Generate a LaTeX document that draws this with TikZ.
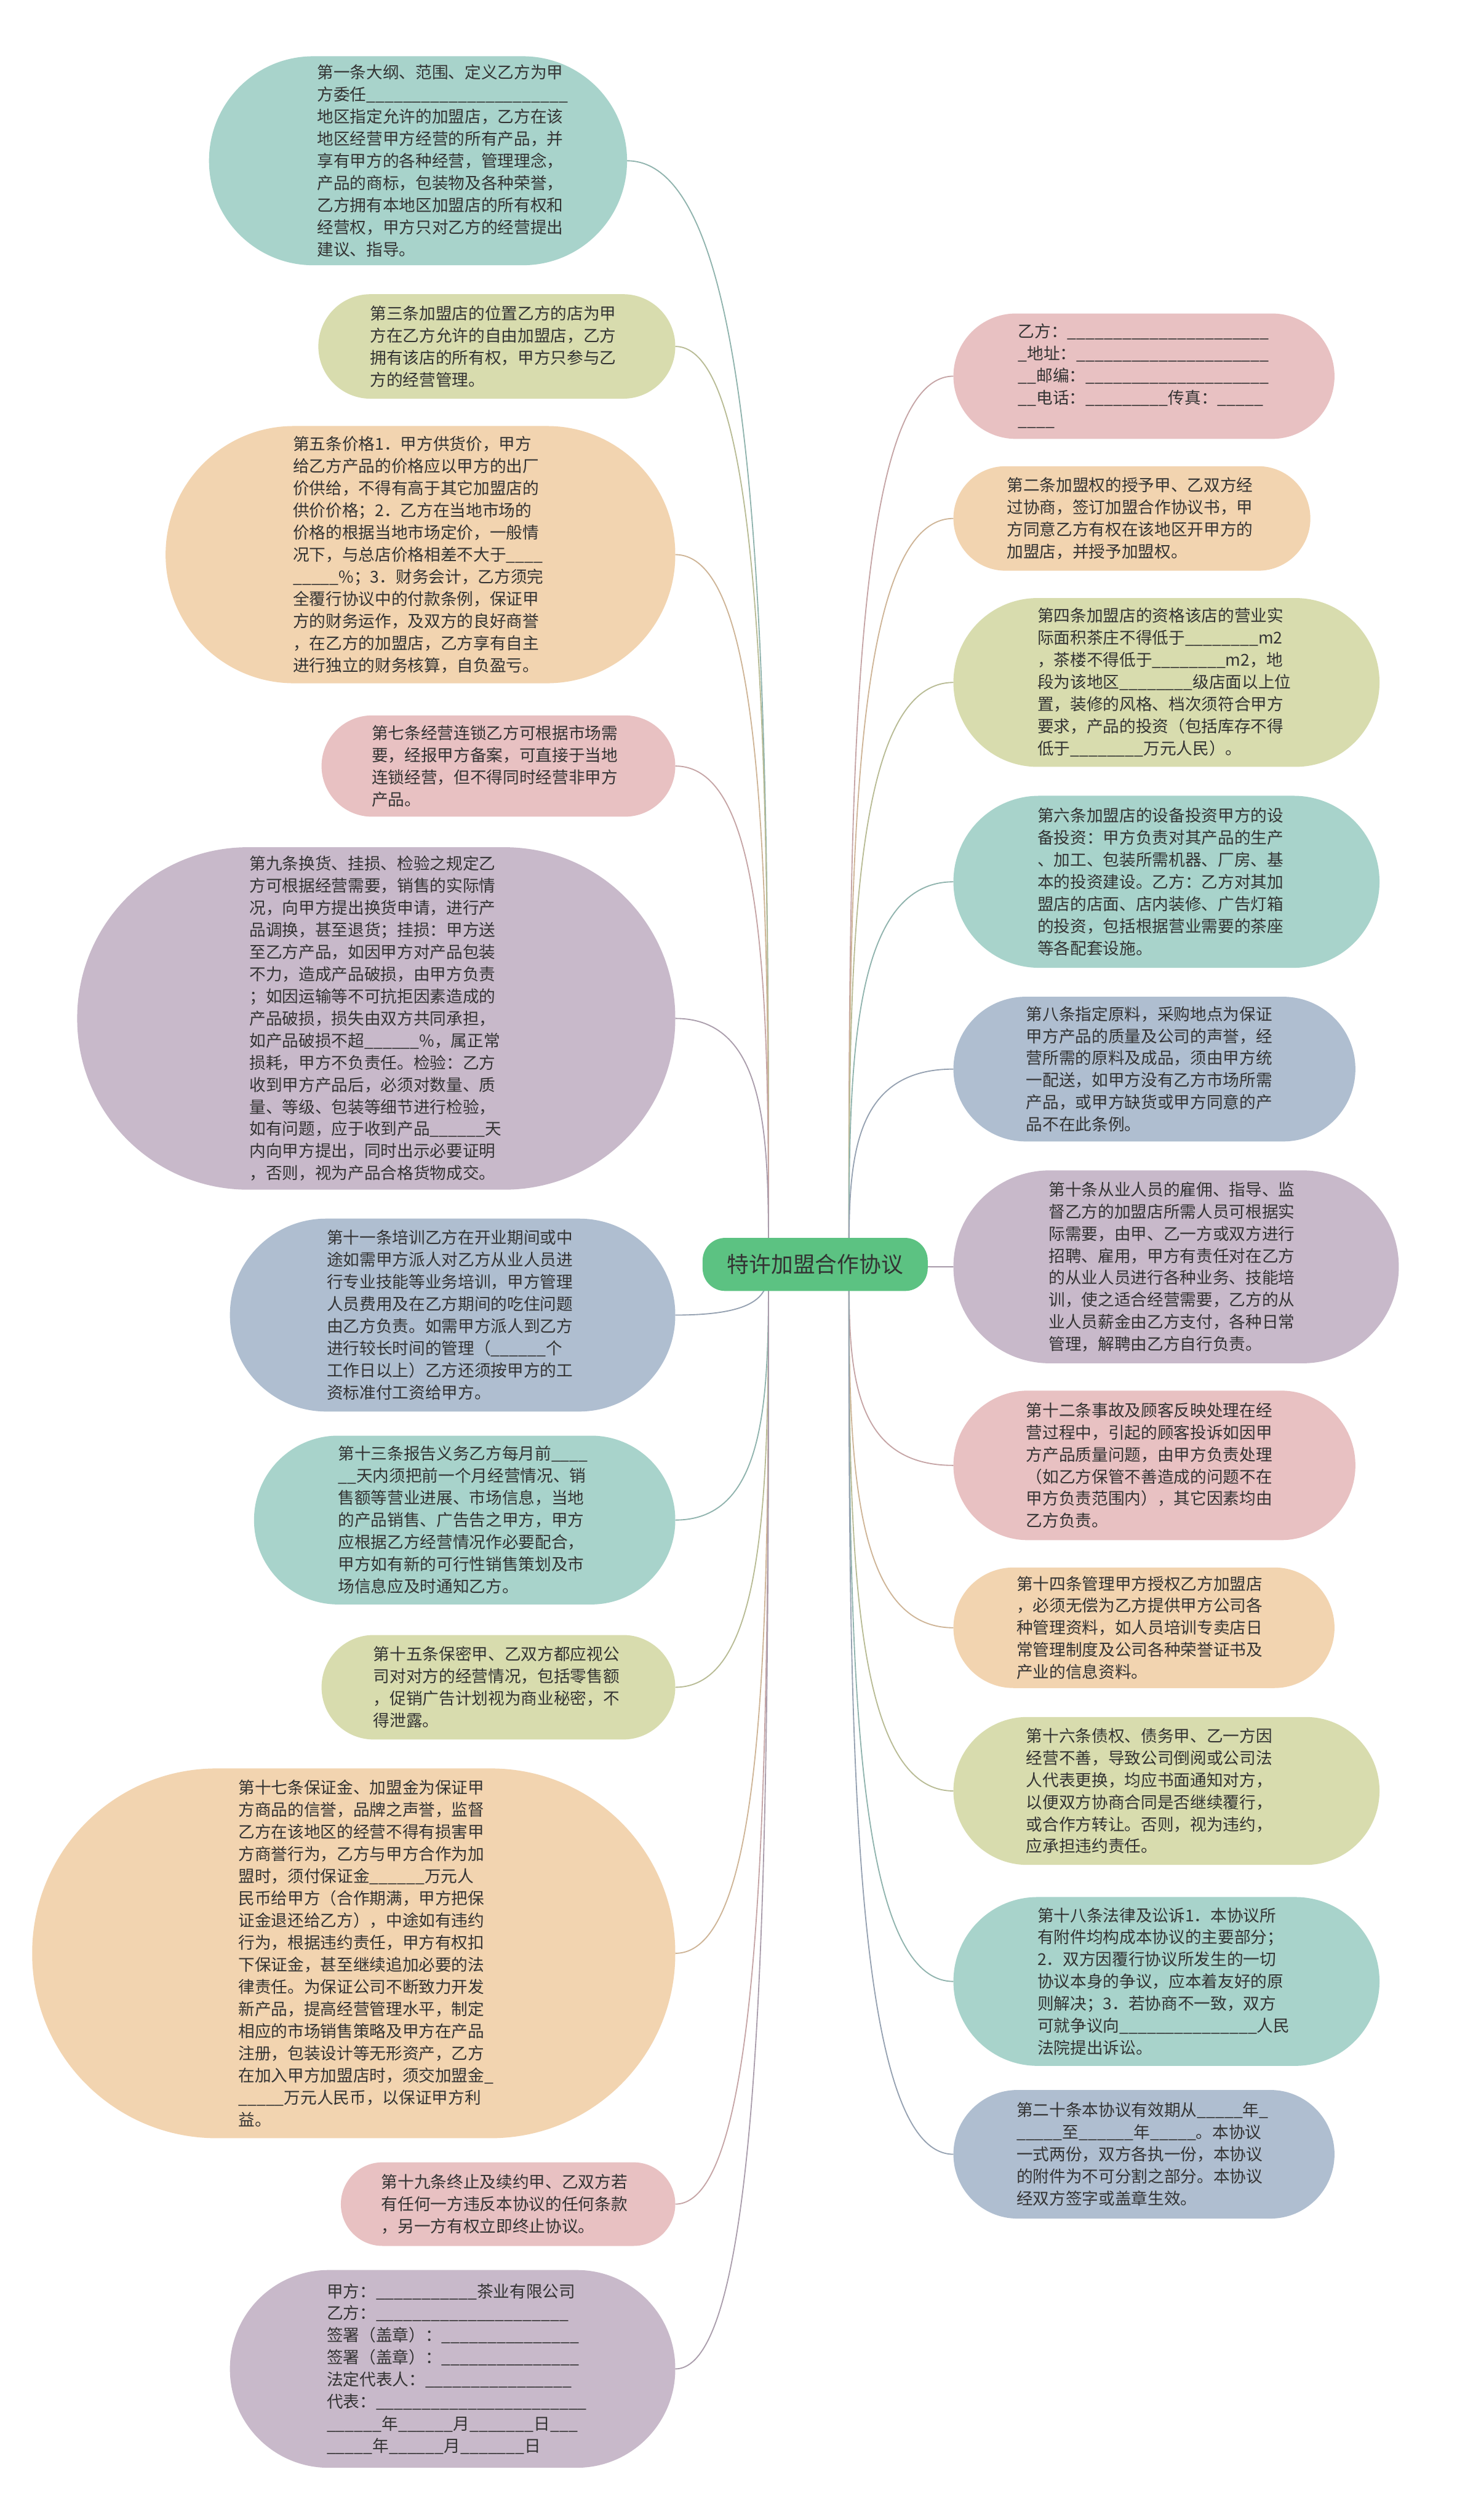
\documentclass[tikz,border=0pt]{standalone}
\usepackage{fontspec}
\setmainfont{Noto Sans CJK SC}
\usetikzlibrary{calc}
\ExplSyntaxOn
\NewDocumentCommand \bl {m} { \prg_replicate:nn {#1} {\textunderscore} }
\ExplSyntaxOff
\definecolor{cteal}{HTML}{A8D3CB}
\definecolor{colive}{HTML}{D8DCAE}
\definecolor{cpeach}{HTML}{F2D4B0}
\definecolor{cpink}{HTML}{E8C1C2}
\definecolor{clav}{HTML}{C8B9CA}
\definecolor{cblue}{HTML}{AFBED0}
\definecolor{cgreen}{HTML}{5CC282}
\definecolor{textc}{HTML}{333333}
\pgfdeclarelayer{bg}
\pgfsetlayers{bg,main}
\newcommand\mnode[8]{%
  \pgfmathsetmacro\mw{#4-#2}%
  \pgfmathsetmacro\mh{#5-#3}%
  \pgfmathsetmacro\mr{min(\mh,\mw)*0.499}%
  \node[boxshape, fill=#6, minimum width=\mw*0.84768pt, minimum height=\mh*0.84768pt, rounded corners=\mr*0.84768pt] (#1) at ({(#2+#4)/2},{(#3+#5)/2}) {};
  \node[boxtext] (#1t) at (#7,{(#3+#5)/2}) {#8};
}
\newcommand\lconn[2]{\draw[conn,draw=#2!85!black] (#1.east) .. controls (#1.east -| cl) and ($(#1.east -| cl)!0.5!(cl)$) .. (cl);}
\newcommand\rconn[2]{\draw[conn,draw=#2!85!black] (#1.west) .. controls (#1.west -| cr) and ($(#1.west -| cr)!0.5!(cr)$) .. (cr);}
\begin{document}
\begin{tikzpicture}[x=0.84768pt,y=-0.84768pt,
  boxshape/.style={rectangle, draw=none, inner sep=0pt, outer sep=0pt},
  boxtext/.style={anchor=west, inner sep=0pt, align=left, text=textc, font=\fontsize{8.65pt}{11.66pt}\selectfont},
  conn/.style={line width=0.6pt},
  root/.style={rectangle, rounded corners=14*0.84768pt, fill=cgreen, minimum width=140*0.84768pt, minimum height=33*0.84768pt, inner sep=0pt, text=textc, font=\fontsize{11.6pt}{14pt}\selectfont}]
\begin{pgfonlayer}{bg}
\fill[white] (0,0) rectangle (906,1567.5);
\end{pgfonlayer}
\useasboundingbox (0,0) rectangle (906,1567.5);
\coordinate (cl) at (478,786);
\coordinate (cr) at (528,786);

\mnode{L1}{130}{35}{390}{165}{cteal}{197}{第一条大纲、范围、定义乙方为甲\\
方委任\bl{22}\\
地区指定允许的加盟店，乙方在该\\
地区经营甲方经营的所有产品，并\\
享有甲方的各种经营，管理理念，\\
产品的商标，包装物及各种荣誉，\\
乙方拥有本地区加盟店的所有权和\\
经营权，甲方只对乙方的经营提出\\
建议、指导。}
\mnode{L2}{198}{183}{420}{248}{colive}{230}{第三条加盟店的位置乙方的店为甲\\
方在乙方允许的自由加盟店，乙方\\
拥有该店的所有权，甲方只参与乙\\
方的经营管理。}
\mnode{L3}{103}{265}{420}{425}{cpeach}{182}{第五条价格1．甲方供货价，甲方\\
给乙方产品的价格应以甲方的出厂\\
价供给，不得有高于其它加盟店的\\
供价价格；2．乙方在当地市场的\\
价格的根据当地市场定价，一般情\\
况下，与总店价格相差不大于\bl{4}\\
\bl{5}\%；3．财务会计，乙方须完\\
全覆行协议中的付款条例，保证甲\\
方的财务运作，及双方的良好商誉\\
，在乙方的加盟店，乙方享有自主\\
进行独立的财务核算，自负盈亏。}
\mnode{L4}{200}{445}{420}{508}{cpink}{231}{第七条经营连锁乙方可根据市场需\\
要，经报甲方备案，可直接于当地\\
连锁经营，但不得同时经营非甲方\\
产品。}
\mnode{L5}{48}{527}{420}{740}{clav}{155}{第九条换货、挂损、检验之规定乙\\
方可根据经营需要，销售的实际情\\
况，向甲方提出换货申请，进行产\\
品调换，甚至退货；挂损：甲方送\\
至乙方产品，如因甲方对产品包装\\
不力，造成产品破损，由甲方负责\\
；如因运输等不可抗拒因素造成的\\
产品破损，损失由双方共同承担，\\
如产品破损不超\bl{6}\%，属正常\\
损耗，甲方不负责任。检验：乙方\\
收到甲方产品后，必须对数量、质\\
量、等级、包装等细节进行检验，\\
如有问题，应于收到产品\bl{6}天\\
内向甲方提出，同时出示必要证明\\
，否则，视为产品合格货物成交。}
\mnode{L6}{143}{758}{420}{878}{cblue}{203}{第十一条培训乙方在开业期间或中\\
途如需甲方派人对乙方从业人员进\\
行专业技能等业务培训，甲方管理\\
人员费用及在乙方期间的吃住问题\\
由乙方负责。如需甲方派人到乙方\\
进行较长时间的管理（\bl{6}个\\
工作日以上）乙方还须按甲方的工\\
资标准付工资给甲方。}
\mnode{L7}{158}{893}{420}{998}{cteal}{210}{第十三条报告义务乙方每月前\bl{4}\\
\bl{2}天内须把前一个月经营情况、销\\
售额等营业进展、市场信息，当地\\
的产品销售、广告告之甲方，甲方\\
应根据乙方经营情况作必要配合，\\
甲方如有新的可行性销售策划及市\\
场信息应及时通知乙方。}
\mnode{L8}{200}{1017}{420}{1082}{colive}{232}{第十五条保密甲、乙双方都应视公\\
司对对方的经营情况，包括零售额\\
，促销广告计划视为商业秘密，不\\
得泄露。}
\mnode{L9}{20}{1100}{420}{1330}{cpeach}{148}{第十七条保证金、加盟金为保证甲\\
方商品的信誉，品牌之声誉，监督\\
乙方在该地区的经营不得有损害甲\\
方商誉行为，乙方与甲方合作为加\\
盟时，须付保证金\bl{6}万元人\\
民币给甲方（合作期满，甲方把保\\
证金退还给乙方），中途如有违约\\
行为，根据违约责任，甲方有权扣\\
下保证金，甚至继续追加必要的法\\
律责任。为保证公司不断致力开发\\
新产品，提高经营管理水平，制定\\
相应的市场销售策略及甲方在产品\\
注册，包装设计等无形资产，乙方\\
在加入甲方加盟店时，须交加盟金\bl{1}\\
\bl{5}万元人民币，以保证甲方利\\
益。}
\mnode{L10}{212}{1345}{420}{1397}{cpink}{237}{第十九条终止及续约甲、乙双方若\\
有任何一方违反本协议的任何条款\\
，另一方有权立即终止协议。}
\mnode{L11}{143}{1412}{420}{1535}{clav}{203}{甲方：\bl{11}茶业有限公司\\
乙方：\bl{21}\\
签署（盖章）：\bl{15}\\
签署（盖章）：\bl{15}\\
法定代表人：\bl{16}\\
代表：\bl{23}\\
\bl{6}年\bl{6}月\bl{7}日\bl{3}\\
\bl{5}年\bl{6}月\bl{7}日}

\mnode{R1}{593}{195}{830}{273}{cpink}{633}{乙方：\bl{22}\\
\bl{1}地址：\bl{21}\\
\bl{2}邮编：\bl{20}\\
\bl{2}电话：\bl{9}传真：\bl{5}\\
\bl{4}}
\mnode{R2}{593}{290}{815}{355}{cpeach}{626}{第二条加盟权的授予甲、乙双方经\\
过协商，签订加盟合作协议书，甲\\
方同意乙方有权在该地区开甲方的\\
加盟店，并授予加盟权。}
\mnode{R3}{593}{372}{858}{477}{colive}{645}{第四条加盟店的资格该店的营业实\\
际面积茶庄不得低于\bl{8}m2\\
，茶楼不得低于\bl{8}m2，地\\
段为该地区\bl{8}级店面以上位\\
置，装修的风格、档次须符合甲方\\
要求，产品的投资（包括库存不得\\
低于\bl{8}万元人民）。}
\mnode{R4}{593}{495}{858}{602}{cteal}{645}{第六条加盟店的设备投资甲方的设\\
备投资：甲方负责对其产品的生产\\
、加工、包装所需机器、厂房、基\\
本的投资建设。乙方：乙方对其加\\
盟店的店面、店内装修、广告灯箱\\
的投资，包括根据营业需要的茶座\\
等各配套设施。}
\mnode{R5}{593}{620}{843}{710}{cblue}{638}{第八条指定原料，采购地点为保证\\
甲方产品的质量及公司的声誉，经\\
营所需的原料及成品，须由甲方统\\
一配送，如甲方没有乙方市场所需\\
产品，或甲方缺货或甲方同意的产\\
品不在此条例。}
\mnode{R6}{593}{728}{870}{848}{clav}{652}{第十条从业人员的雇佣、指导、监\\
督乙方的加盟店所需人员可根据实\\
际需要，由甲、乙一方或双方进行\\
招聘、雇用，甲方有责任对在乙方\\
的从业人员进行各种业务、技能培\\
训，使之适合经营需要，乙方的从\\
业人员薪金由乙方支付，各种日常\\
管理，解聘由乙方自行负责。}
\mnode{R7}{593}{865}{843}{958}{cpink}{638}{第十二条事故及顾客反映处理在经\\
营过程中，引起的顾客投诉如因甲\\
方产品质量问题，由甲方负责处理\\
（如乙方保管不善造成的问题不在\\
甲方负责范围内），其它因素均由\\
乙方负责。}
\mnode{R8}{593}{975}{830}{1050}{cpeach}{632}{第十四条管理甲方授权乙方加盟店\\
，必须无偿为乙方提供甲方公司各\\
种管理资料，如人员培训专卖店日\\
常管理制度及公司各种荣誉证书及\\
产业的信息资料。}
\mnode{R9}{593}{1068}{858}{1160}{colive}{638}{第十六条债权、债务甲、乙一方因\\
经营不善，导致公司倒阅或公司法\\
人代表更换，均应书面通知对方，\\
以便双方协商合同是否继续覆行，\\
或合作方转让。否则，视为违约，\\
应承担违约责任。}
\mnode{R10}{593}{1180}{858}{1285}{cteal}{645}{第十八条法律及讼诉1．本协议所\\
有附件均构成本协议的主要部分；\\
2．双方因覆行协议所发生的一切\\
协议本身的争议，应本着友好的原\\
则解决；3．若协商不一致，双方\\
可就争议向\bl{15}人民\\
法院提出诉讼。}
\mnode{R11}{593}{1300}{830}{1380}{cblue}{632}{第二十条本协议有效期从\bl{5}年\bl{1}\\
\bl{5}至\bl{6}年\bl{5}。本协议\\
一式两份，双方各执一份，本协议\\
的附件为不可分割之部分。本协议\\
经双方签字或盖章生效。}

\node[root] (root) at (507,786.5) {特许加盟合作协议};

\begin{pgfonlayer}{bg}
\lconn{L1}{cteal}
\lconn{L2}{colive}
\lconn{L3}{cpeach}
\lconn{L4}{cpink}
\lconn{L5}{clav}
\lconn{L6}{cblue}
\lconn{L7}{cteal}
\lconn{L8}{colive}
\lconn{L9}{cpeach}
\lconn{L10}{cpink}
\lconn{L11}{clav}
\rconn{R1}{cpink}
\rconn{R2}{cpeach}
\rconn{R3}{colive}
\rconn{R4}{cteal}
\rconn{R5}{cblue}
\rconn{R6}{clav}
\rconn{R7}{cpink}
\rconn{R8}{cpeach}
\rconn{R9}{colive}
\rconn{R10}{cteal}
\rconn{R11}{cblue}
\end{pgfonlayer}
\end{tikzpicture}
\end{document}
